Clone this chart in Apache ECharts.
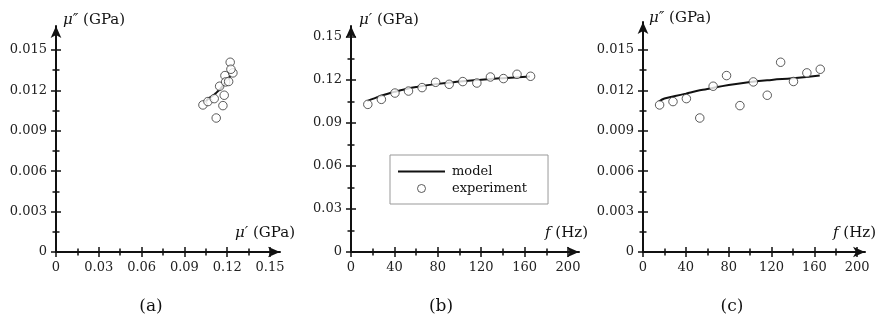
<!DOCTYPE html>
<html>
<head>
<meta charset="utf-8">
<script src="https://cdn.jsdelivr.net/npm/echarts@6/dist/echarts.min.js"></script>
<style>html,body{margin:0;padding:0;background:#fff}#c{width:879px;height:322px}</style>
</head>
<body>
<div id="c"></div>
<script>
// ---- data ----
const expFreq   = [15.5, 28, 40.5, 53, 65.5, 78, 90.5, 103, 116, 128.5, 140.5, 153, 165.5];
const expMuP    = [0.1030, 0.1065, 0.1109, 0.1123, 0.1147, 0.1184, 0.1170, 0.1189, 0.1179, 0.1221, 0.1210, 0.1240, 0.1226];
const expMuPP   = [0.01092, 0.01117, 0.01139, 0.00995, 0.01231, 0.01310, 0.01087, 0.01263, 0.01164, 0.01409, 0.01266, 0.01330, 0.01357];
const modelFreq = [15, 20, 30, 40, 50, 60, 80, 100, 120, 140, 165];
const modelMuP  = [0.1053, 0.1068, 0.1095, 0.1117, 0.1136, 0.1151, 0.1173, 0.1189, 0.1202, 0.1213, 0.1225];
const modelMuPP = [0.01118, 0.01140, 0.01158, 0.01176, 0.01195, 0.01210, 0.01240, 0.01262, 0.01278, 0.01290, 0.01310];

const ticksMuP  = [0, 0.03, 0.06, 0.09, 0.12, 0.15];
const labelsMuP = ['0', '0.03', '0.06', '0.09', '0.12', '0.15'];
const minorMuP  = [0.015, 0.045, 0.075, 0.105, 0.135];
const ticksMuPP  = [0, 0.003, 0.006, 0.009, 0.012, 0.015];
const labelsMuPP = ['0', '0.003', '0.006', '0.009', '0.012', '0.015'];
const minorMuPP  = [0.0015, 0.0045, 0.0075, 0.0105, 0.0135];
const ticksFreq  = [0, 40, 80, 120, 160, 200];
const labelsFreq = ['0', '40', '80', '120', '160', '200'];
const minorFreq  = [20, 60, 100, 140, 180];

const panelTitles = ['(a)', '(b)', '(c)'];
const seriesNames = ['model', 'experiment'];

// ---- chart ----
const FONT = 'DejaVu Serif';
const INK = '#111';
const chart = echarts.init(document.getElementById('c'), null, {renderer: 'canvas'});

const rich = {
  i: {fontFamily: FONT, fontStyle: 'italic', fontSize: 15, color: INK},
  n: {fontFamily: FONT, fontSize: 15, color: INK}
};

function axisSet(isX, grid, max, ticks, labels, minor, name, nameOpt) {
  const common = {
    type: 'value', gridIndex: grid, min: 0, max: max,
    position: isX ? 'bottom' : 'left', offset: 0,
    splitLine: {show: false}, minorTick: {show: false}, silent: true
  };
  const hidden = (vals, inside, len) => Object.assign({}, common, {
    axisLine: {show: false, onZero: false},
    axisLabel: {show: false},
    axisTick: {show: true, inside: inside, length: len, customValues: vals,
               lineStyle: {color: INK, width: 1.5}}
  });
  const main = Object.assign({}, common, {
    axisLine: {show: true, onZero: false, symbol: ['none', 'arrow'], symbolSize: [8, 12],
               lineStyle: {color: INK, width: 2}},
    axisTick: {show: true, inside: false, length: 5, customValues: ticks,
               lineStyle: {color: INK, width: 1.5}},
    axisLabel: {show: true, margin: 9, customValues: ticks, color: '#222',
                fontFamily: FONT, fontSize: 13,
                formatter: function (v) {
                  let k = 0, d = Infinity;
                  ticks.forEach(function (t, j) { if (Math.abs(t - v) < d) { d = Math.abs(t - v); k = j; } });
                  return labels[k];
                }},
    name: name, nameLocation: 'end', nameGap: nameOpt.gap,
    nameTextStyle: Object.assign({rich: rich, fontFamily: FONT, fontSize: 15, color: INK}, nameOpt.style)
  });
  return [main, hidden(ticks, true, 5), hidden(minor, false, 3.5), hidden(minor, true, 3.5)];
}

const grids = [
  {left: 56,  top: 26, width: 224, height: 226, containLabel: false},
  {left: 351, top: 26, width: 228, height: 226, containLabel: false},
  {left: 643, top: 22, width: 228, height: 230, containLabel: false}
];

const xAxes = [].concat(
  axisSet(true, 0, 0.15701, ticksMuP, labelsMuP, minorMuP, '{i|μ′} {n|(GPa)}',
          {gap: 15, style: {align: 'right', verticalAlign: 'bottom', padding: [0, 0, 11, 0]}}),
  axisSet(true, 1, 210.14, ticksFreq, labelsFreq, minorFreq, '{i|f} {n|(Hz)}',
          {gap: 9, style: {align: 'right', verticalAlign: 'bottom', padding: [0, 0, 11, 0]}}),
  axisSet(true, 2, 207.27, ticksFreq, labelsFreq, minorFreq, '{i|f} {n|(Hz)}',
          {gap: 11, style: {align: 'right', verticalAlign: 'bottom', padding: [0, 0, 11, 0]}})
);
const yAxes = [].concat(
  axisSet(false, 0, 0.016782, ticksMuPP, labelsMuPP, minorMuPP, '{i|μ″} {n|(GPa)}',
          {gap: 6, style: {align: 'left', verticalAlign: 'middle', padding: [0, 0, 0, 7]}}),
  axisSet(false, 1, 0.15768, ticksMuP, labelsMuP, minorMuP, '{i|μ′} {n|(GPa)}',
          {gap: 6, style: {align: 'left', verticalAlign: 'middle', padding: [0, 0, 0, 8]}}),
  axisSet(false, 2, 0.017079, ticksMuPP, labelsMuPP, minorMuPP, '{i|μ″} {n|(GPa)}',
          {gap: 4, style: {align: 'left', verticalAlign: 'middle', padding: [0, 0, 0, 6]}})
);

function zip(a, b) { return a.map(function (v, i) { return [v, b[i]]; }); }

const lineStyle = {color: INK, width: 2};
const scatterStyle = {color: '#fff', borderColor: '#333', borderWidth: 1};

function modelSeries(ax, data) {
  return {type: 'line', name: seriesNames[0], xAxisIndex: ax, yAxisIndex: ax, data: data,
          smooth: true, showSymbol: false, symbol: 'none', lineStyle: lineStyle,
          itemStyle: {color: INK}, z: 3, silent: true};
}
function expSeries(ax, data) {
  return {type: 'scatter', name: seriesNames[1], xAxisIndex: ax, yAxisIndex: ax, data: data,
          symbol: 'circle', symbolSize: 8.5, itemStyle: scatterStyle, z: 4, silent: true};
}

// legend line icon: a 2px bar centred in the icon box (tiny corner dots fix the box)
const lineIcon = 'path://M0,0H0.01V0.01H0Z M0,3H47V5H0Z M0,7.99H0.01V8H0Z';

const option = {
  animation: false,
  backgroundColor: '#fff',
  grid: grids,
  xAxis: xAxes,
  yAxis: yAxes,
  legend: {
    show: true, orient: 'vertical', left: 390, top: 155,
    data: [{name: seriesNames[0], icon: lineIcon, itemStyle: {color: INK, borderWidth: 0}},
           {name: seriesNames[1], icon: 'circle', itemStyle: {color: '#fff', borderColor: '#333', borderWidth: 1}}],
    itemWidth: 47, itemHeight: 8, itemGap: 4,
    padding: [10, 21, 9, 8],
    borderColor: '#999', borderWidth: 1, backgroundColor: '#fff',
    selectedMode: false,
    textStyle: {fontFamily: FONT, fontSize: 13, color: INK, padding: [0, 0, 0, 2]}
  },
  series: [
    modelSeries(0, zip(modelMuP, modelMuPP)),
    expSeries(0, zip(expMuP, expMuPP)),
    modelSeries(4, zip(modelFreq, modelMuP)),
    expSeries(4, zip(expFreq, expMuP)),
    modelSeries(8, zip(modelFreq, modelMuPP)),
    expSeries(8, zip(expFreq, expMuPP))
  ],
  graphic: [151, 441, 732].map(function (x, i) {
    return {type: 'text', x: x, y: 307, silent: true,
            style: {text: panelTitles[i], fontFamily: FONT, fontSize: 17, fill: INK,
                    align: 'center', verticalAlign: 'middle'}};
  })
};
chart.setOption(option);
</script>
</body>
</html>
